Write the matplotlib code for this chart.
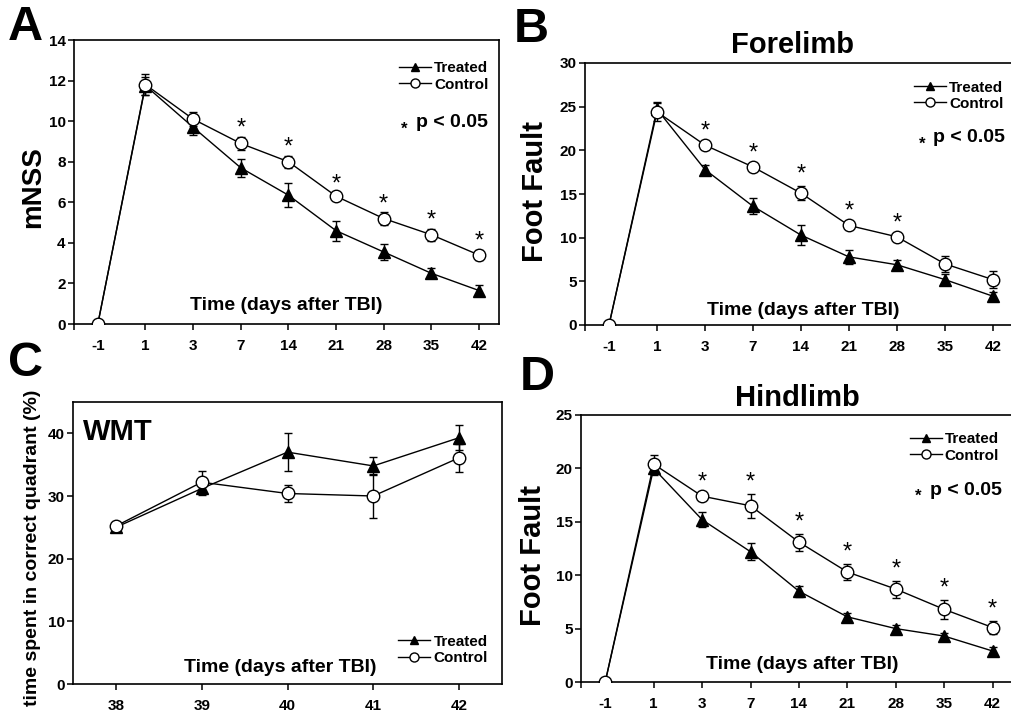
import numpy as np
import matplotlib
matplotlib.use('Agg')
import matplotlib.pyplot as plt
from matplotlib.lines import Line2D

plt.rc('font', family=['Liberation Sans', 'DejaVu Sans'], weight='bold', size=10)
plt.rc('axes', linewidth=1.2)

# x categories for the time-course panels (days after TBI)
day_labels = ['-1', '1', '3', '7', '14', '21', '28', '35', '42']

# A: mNSS
mnss_treated = [0, 11.75, 9.7, 7.7, 6.35, 4.6, 3.55, 2.5, 1.65]
mnss_treated_err = [0, 0.45, 0.4, 0.45, 0.6, 0.5, 0.4, 0.25, 0.25]
mnss_control = [0, 11.8, 10.1, 8.9, 8.0, 6.3, 5.2, 4.4, 3.4]
mnss_control_err = [0, 0.5, 0.33, 0.33, 0.3, 0.15, 0.3, 0.3, 0.25]
mnss_sig = ['7', '14', '21', '28', '35', '42']

# B: forelimb foot fault
fore_treated = [0, 24.7, 17.8, 13.6, 10.3, 7.8, 6.9, 5.2, 3.3]
fore_treated_err = [0, 0.8, 0.5, 0.9, 1.1, 0.8, 0.5, 0.6, 0.5]
fore_control = [0, 24.4, 20.6, 18.1, 15.1, 11.4, 10.1, 7.0, 5.2]
fore_control_err = [0, 1.0, 0.3, 0.3, 0.8, 0.3, 0.3, 0.95, 0.95]
fore_sig = ['3', '7', '14', '21', '28']

# C: water maze test
wmt_days = [38, 39, 40, 41, 42]
wmt_treated = [25.0, 31.2, 37.0, 34.8, 39.3]
wmt_treated_err = [0.5, 1.0, 3.0, 1.4, 2.0]
wmt_control = [25.2, 32.2, 30.4, 30.0, 36.1]
wmt_control_err = [0.5, 1.8, 1.3, 3.5, 2.2]

# D: hindlimb foot fault
hind_treated = [0, 20.0, 15.2, 12.2, 8.5, 6.1, 5.0, 4.3, 2.9]
hind_treated_err = [0, 0.6, 0.7, 0.8, 0.5, 0.4, 0.3, 0.3, 0.4]
hind_control = [0, 20.4, 17.4, 16.5, 13.1, 10.3, 8.7, 6.8, 5.1]
hind_control_err = [0, 0.85, 0.2, 1.1, 0.8, 0.75, 0.8, 0.9, 0.6]
hind_sig = ['3', '7', '14', '21', '28', '35', '42']


def draw_pair(ax, x, tr, tr_err, ct, ct_err):
    ax.errorbar(x, tr, yerr=tr_err, color='k', lw=1, marker='^', ms=9,
                mfc='k', mec='k', capsize=3, elinewidth=1, capthick=1, zorder=3)
    ax.errorbar(x, ct, yerr=ct_err, color='k', lw=1, marker='o', ms=9,
                mfc='white', mec='k', mew=1, capsize=3, elinewidth=1,
                capthick=1, zorder=4)


def style_axes(ax):
    ax.tick_params(axis='both', which='both', direction='out', length=4,
                   width=1.1, labelsize=11, top=False, right=False)
    ax.tick_params(axis='x', pad=7)
    ax.tick_params(axis='y', pad=2)


def time_axis(ax, ymax, ystep):
    x = np.arange(len(day_labels))
    ax.set_xlim(-0.5, 8.42)
    ax.set_xticks(x)
    ax.set_xticklabels(day_labels)
    ax.set_xticks([-0.5], minor=True)
    ax.xaxis.get_major_ticks()[0].tick1line.set_visible(False)
    ax.set_ylim(0, ymax)
    ax.set_yticks(np.arange(0, ymax + 0.1, ystep))
    style_axes(ax)
    return x


def add_legend(ax, x_right, y_top):
    handles = [Line2D([], [], color='k', lw=1, marker='^', ms=6, mfc='k'),
               Line2D([], [], color='k', lw=1, marker='o', ms=6.5, mfc='white')]
    ax.legend(handles, ['Treated', 'Control'], loc='upper right',
              bbox_to_anchor=(x_right, y_top), frameon=False, borderpad=0,
              borderaxespad=0, handlelength=2.1, handletextpad=0.2,
              labelspacing=0.15, prop={'weight': 'bold', 'size': 11})


def p_note(ax, x_star, x_right, y):
    ax.text(x_star, y - 0.025, '*', transform=ax.transAxes, ha='center',
            va='center', fontsize=12, fontweight='bold')
    ax.text(x_right, y, 'p < 0.05', transform=ax.transAxes, ha='right',
            va='center', fontsize=14, fontweight='bold')


def stars(ax, x, ct, ct_err, sig, offset):
    for lab in sig:
        i = day_labels.index(lab)
        ax.annotate('*', xy=(x[i], ct[i] + ct_err[i]), xytext=(0, offset),
                    textcoords='offset points', ha='center', va='center',
                    fontsize=17, fontweight='normal')


def time_label(ax, xc, yc):
    ax.text(xc, yc, 'Time (days after TBI)', transform=ax.transAxes,
            ha='center', va='center', fontsize=14, fontweight='bold')


fig = plt.figure(figsize=(10.11, 7.19), dpi=100)
W, H = 1011.0, 719.0


def px_axes(x0, x1, ytop, ybot):
    return fig.add_axes([x0 / W, 1 - ybot / H, (x1 - x0) / W, (ybot - ytop) / H])


# ---- A ----
axA = px_axes(74, 499, 40, 324)
x = time_axis(axA, 14, 2)
draw_pair(axA, x, mnss_treated, mnss_treated_err, mnss_control, mnss_control_err)
stars(axA, x, mnss_control, mnss_control_err, mnss_sig, 6)
add_legend(axA, 0.975, 0.925)
p_note(axA, 0.776, 0.975, 0.711)
time_label(axA, 0.5, 0.065)

# ---- B ----
axB = px_axes(585, 1013, 63, 325)
x = time_axis(axB, 30, 5)
draw_pair(axB, x, fore_treated, fore_treated_err, fore_control, fore_control_err)
stars(axB, x, fore_control, fore_control_err, fore_sig, 8)
add_legend(axB, 0.978, 0.933)
p_note(axB, 0.787, 0.98, 0.714)
time_label(axB, 0.509, 0.057)
axB.text(0.484, 1.069, 'Forelimb', transform=axB.transAxes, ha='center',
         va='center', fontsize=21, fontweight='bold')

# ---- C ----
axC = px_axes(73, 502, 402, 684)
draw_pair(axC, wmt_days, wmt_treated, wmt_treated_err, wmt_control, wmt_control_err)
axC.set_xlim(37.5, 42.5)
axC.set_xticks(wmt_days)
axC.set_ylim(0, 45)
axC.set_yticks([0, 10, 20, 30, 40])
style_axes(axC)
add_legend(axC, 0.967, 0.175)
time_label(axC, 0.483, 0.06)
axC.text(0.023, 0.894, 'WMT', transform=axC.transAxes, ha='left',
         va='center', fontsize=21, fontweight='bold')

# ---- D ----
axD = px_axes(581, 1013, 415, 682)
x = time_axis(axD, 25, 5)
draw_pair(axD, x, hind_treated, hind_treated_err, hind_control, hind_control_err)
stars(axD, x, hind_control, hind_control_err, hind_sig, 8)
add_legend(axD, 0.968, 0.935)
p_note(axD, 0.78, 0.975, 0.719)
time_label(axD, 0.512, 0.064)
axD.text(0.5, 1.064, 'Hindlimb', transform=axD.transAxes, ha='center',
         va='center', fontsize=21, fontweight='bold')

# y labels and panel letters
fig.text(33 / W, 1 - 187 / H, 'mNSS', rotation=90, ha='center', va='center',
         fontsize=20, fontweight='bold')
fig.text(535 / W, 1 - 192 / H, 'Foot Fault', rotation=90, ha='center',
         va='center', fontsize=21, fontweight='bold')
fig.text(33 / W, 1 - 548 / H, 'time spent in correct quadrant (%)', rotation=90,
         ha='center', va='center', fontsize=14, fontweight='bold')
fig.text(533 / W, 1 - 555 / H, 'Foot Fault', rotation=90, ha='center',
         va='center', fontsize=21, fontweight='bold')

for lab, px, py in [('A', 25, 28), ('B', 531, 29), ('C', 25, 363), ('D', 537, 378)]:
    fig.text(px / W, 1 - py / H, lab, ha='center', va='center', fontsize=35,
             fontweight='bold')

fig.savefig('out.png', dpi=100)
